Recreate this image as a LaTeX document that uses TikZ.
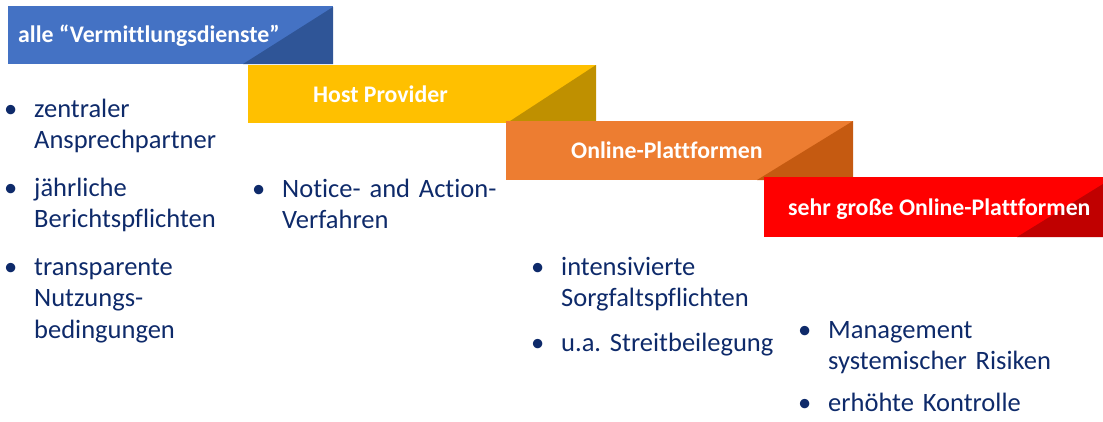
\documentclass[tikz,border=0pt]{standalone}
\usepackage{fontspec}
\setmainfont[Ligatures=NoCommon]{Carlito}
\definecolor{blau}{HTML}{4472C4}
\definecolor{blaudunkel}{HTML}{2F5597}
\definecolor{gelb}{HTML}{FFC000}
\definecolor{gelbdunkel}{HTML}{BF9000}
\definecolor{orange}{HTML}{ED7D31}
\definecolor{orangedunkel}{HTML}{C55A11}
\definecolor{rot}{HTML}{FF0000}
\definecolor{rotdunkel}{HTML}{C00000}
\definecolor{navy}{HTML}{0E2A6A}
\newcommand\punkt{\leavevmode\llap{\textbullet\hspace{17pt}}}
\frenchspacing
\begin{document}
\begin{tikzpicture}[x=1pt,y=-1pt,
  titel/.style={text=white, font=\bfseries\fontsize{23.8}{28}\selectfont, inner sep=0pt, anchor=base west},
  liste/.style={text=navy, font=\fontsize{26.5}{31.5}\selectfont, inner sep=0pt, anchor=base west, text width=300pt, align=left}]
 \useasboundingbox (0,0) rectangle (1103,421);

 % Stufen
 \fill[blau] (8,6) rectangle (333,64);
 \fill[blaudunkel] (243,64) -- (333,7) -- (333,64) -- cycle;
 \fill[gelb] (248,65) rectangle (596,123);
 \fill[gelbdunkel] (507,123) -- (596,65) -- (596,123) -- cycle;
 \fill[orange] (506,121) rectangle (853,180);
 \fill[orangedunkel] (757,180) -- (853,121) -- (853,180) -- cycle;
 \fill[rot] (764,177) rectangle (1103,237);
 \fill[rotdunkel] (1017,237) -- (1103,184) -- (1103,237) -- cycle;

 \node[titel] (alle) at (18,42) {alle “Vermittlungsdienste”};
 \node[titel] (host) at (313,102) {Host Provider};
 \node[titel] (online) at (571,158) {Online-Plattformen};
 \node[titel] (vlop) at (788,215) {sehr große Online-Plattformen};

 % Pflichten
 \node[liste] (pflichtA) at (34,117) {\punkt zentraler\\ Ansprechpartner\\[16pt]
   \punkt jährliche\\ Berichtspflichten\\[16pt]
   \punkt transparente\\ Nutzungs-\\ bedingungen};
 \node[liste] (pflichtB) at (282,197) {\punkt Notice- and Action-\\ Verfahren};
 \node[liste] (pflichtC) at (561,275) {\punkt intensivierte\\ Sorgfaltspflichten\\[13pt]
   \punkt u.a. Streitbeilegung};
 \node[liste] (pflichtD) at (828,338) {\punkt Management\\ systemischer Risiken\\[10pt]
   \punkt erhöhte Kontrolle};
\end{tikzpicture}
\end{document}
